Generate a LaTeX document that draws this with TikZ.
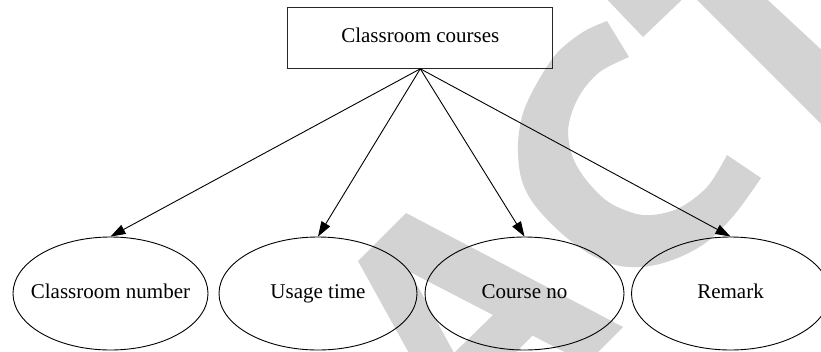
\documentclass[tikz,border=0pt]{standalone}
\usepackage{fontspec}
\setmainfont{Liberation Serif}
\usetikzlibrary{arrows.meta,shapes.geometric}

\tikzset{
  wm/.style={fill={rgb,255:red,211;green,211;blue,211}, draw=none},
  box/.style={draw=black!85, line width=1pt, rectangle, inner sep=0pt},
  oval/.style={draw=black, line width=0.9pt, ellipse, inner sep=0pt},
  arr/.style={draw=black, line width=0.9pt, -{Triangle[length=15pt,width=10pt]}},
  every label/.style={text height=14pt, text depth=4.5pt, inner sep=0pt},
}

\begin{document}
\begin{tikzpicture}[x=1pt, y=-1pt, font=\fontsize{21}{25}\selectfont]
  \useasboundingbox[fill=white] (0,0) rectangle (821,351);

  % light grey lettering in the background
  \fill[wm] plot[smooth, tension=0.55] coordinates {
      (607,21) (583,32) (557,53) (537,83) (523,113) (518,143) (520,173)
      (528,195) (543,215) (567,238) (593,256) (620,266) (650,266)
      (680,257) (708,241) (735,214) (761,178)}
    -- plot[smooth, tension=0.55] coordinates {
      (727,155) (707,187) (677,209) (643,215) (610,203) (587,181)
      (573,158) (568,133) (572,112) (583,90) (601,71) (629,57)}
    -- cycle;
  \fill[wm] (600,-8) -- (643,37) -- (690,-8) -- cycle;
  \fill[wm] (687,-10) -- (757,-10) -- (840,67) -- (840,143) -- cycle;
  \fill[wm, even odd rule]
    (358,261) -- (406,213) -- (623,327) -- (586.6,363.4) -- (532.5,335.5)
    -- (476.4,391.6) -- (492,420) -- (446,420) -- cycle
    (410,272) -- (493,315) -- (454,353) -- cycle;

  % root
  \node[box, minimum width=265pt, minimum height=61pt,
        text height=14pt, text depth=4.5pt] (top) at (420.3,37.8) {Classroom courses};

  % attributes
  \node[oval, minimum width=195pt, minimum height=113pt,
        label={center:Classroom number}] (e1) at (110.5,293.5) {};
  \node[oval, minimum width=198pt, minimum height=113pt,
        label={center:Usage time}] (e2) at (318,293.5) {};
  \node[oval, minimum width=199pt, minimum height=113pt,
        label={center:Course no}] (e3) at (524.5,293.5) {};
  \node[oval, minimum width=198pt, minimum height=113pt,
        label={center:Remark}] (e4) at (730.5,293.5) {};

  % connectors
  \draw[arr] (top.south) -- (e1.north);
  \draw[arr] (top.south) -- (e2.north);
  \draw[arr] (top.south) -- (e3.north);
  \draw[arr] (top.south) -- (e4.north);
\end{tikzpicture}
\end{document}
